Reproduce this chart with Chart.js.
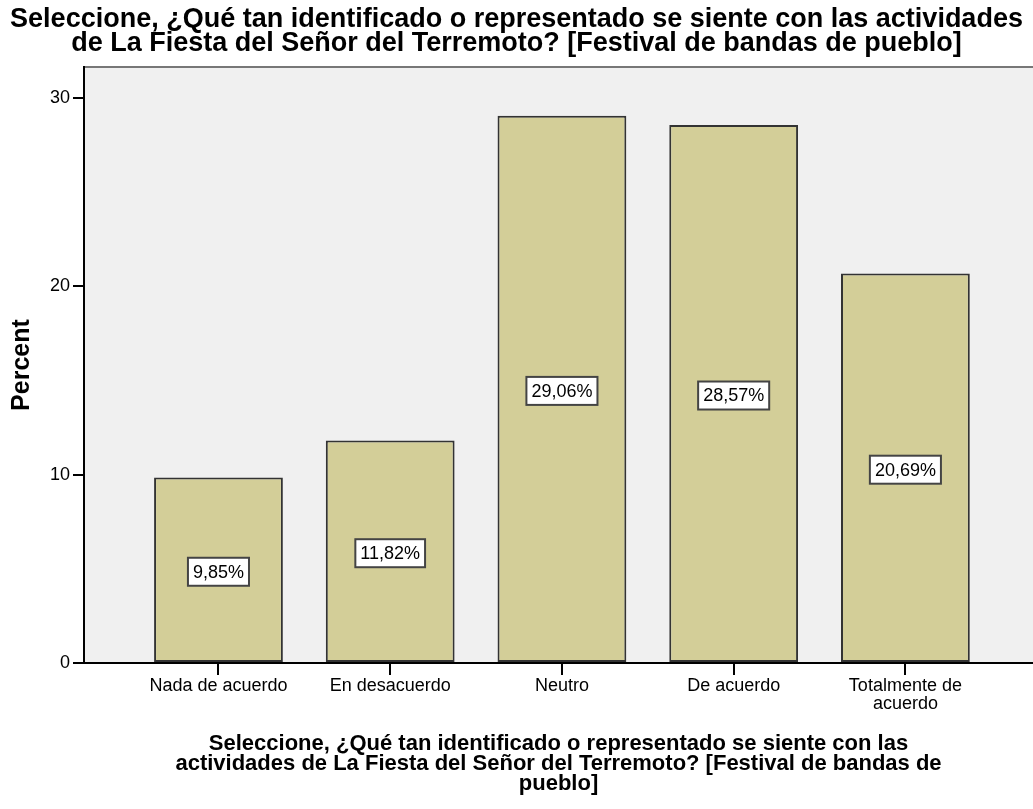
<!DOCTYPE html>
<html lang="es">
<head>
<meta charset="UTF-8">
<title>Festival de bandas de pueblo</title>
<script src="https://cdn.jsdelivr.net/npm/chart.js"></script>
<style>
  html, body { margin: 0; padding: 0; background: #fff; overflow: hidden; }
  canvas { display: block; }
</style>
</head>
<body>
<canvas id="chart" width="1033" height="809"></canvas>
<script>
  // Data
  const categories = ['Nada de acuerdo', 'En desacuerdo', 'Neutro', 'De acuerdo', ['Totalmente de', 'acuerdo']];
  const percents = [9.85, 11.82, 29.06, 28.57, 20.69];
  const yTicks = [0, 10, 20, 30];

  const chartTitle = [
    'Seleccione, ¿Qué tan identificado o representado se siente con las actividades',
    'de La Fiesta del Señor del Terremoto? [Festival de bandas de pueblo]'
  ];
  const xTitle = [
    'Seleccione, ¿Qué tan identificado o representado se siente con las',
    'actividades de La Fiesta del Señor del Terremoto? [Festival de bandas de',
    'pueblo]'
  ];
  const yTitle = 'Percent';

  const FONT = '"Liberation Sans", Arial, sans-serif';

  // grey plot background + top frame line
  const plotBackground = {
    id: 'plotBackground',
    beforeDraw(chart) {
      const {ctx, chartArea: a} = chart;
      ctx.save();
      ctx.fillStyle = '#F0F0F0';
      ctx.fillRect(a.left, a.top, a.right - a.left, a.bottom - a.top);
      ctx.strokeStyle = '#777';
      ctx.lineWidth = 2;
      ctx.beginPath();
      ctx.moveTo(a.left, a.top);
      ctx.lineTo(a.right, a.top);
      ctx.stroke();
      ctx.restore();
    }
  };

  // boxed percent labels in the middle of each bar
  const boxLabels = {
    id: 'boxLabels',
    afterDatasetsDraw(chart) {
      const {ctx} = chart;
      const meta = chart.getDatasetMeta(0);
      ctx.save();
      ctx.font = '18px ' + FONT;
      ctx.textAlign = 'center';
      ctx.textBaseline = 'middle';
      meta.data.forEach((bar, i) => {
        const text = percents[i].toFixed(2).replace('.', ',') + '%';
        const w = ctx.measureText(text).width + 10;
        const h = 28;
        const cx = bar.x;
        const cy = (bar.y + bar.base) / 2 + 2;
        ctx.fillStyle = '#fff';
        ctx.fillRect(cx - w / 2, cy - h / 2, w, h);
        ctx.strokeStyle = '#444';
        ctx.lineWidth = 2;
        ctx.strokeRect(cx - w / 2, cy - h / 2, w, h);
        ctx.fillStyle = '#000';
        ctx.fillText(text, cx, cy + 1);
      });
      ctx.restore();
    }
  };

  const config = {
    type: 'bar',
    data: {
      datasets: [{
        data: percents.map((v, i) => ({x: i, y: v})),
        backgroundColor: '#D3CE98',
        borderColor: '#333',
        borderWidth: 2,
        borderSkipped: false,
        categoryPercentage: 1,
        barPercentage: 0.75
      }]
    },
    options: {
      responsive: false,
      animation: false,
      layout: { padding: 0 },
      plugins: {
        legend: { display: false },
        tooltip: { enabled: false },
        title: {
          display: true,
          text: chartTitle,
          color: '#000',
          font: { family: FONT, size: 27, weight: 'bold', lineHeight: 0.91 },
          padding: { top: 7, bottom: 10.9 }
        }
      },
      scales: {
        x: {
          type: 'linear',
          min: -0.783,
          max: 4.743,
          offset: false,
          afterFit(scale) { scale.height = 146; },
          afterBuildTicks(scale) { scale.ticks = categories.map((c, i) => ({value: i})); },
          ticks: {
            autoSkip: false,
            maxRotation: 0,
            padding: 2.5,
            color: '#000',
            font: { family: FONT, size: 18, lineHeight: 1 },
            callback: (v) => categories[v]
          },
          grid: {
            offset: false,
            drawOnChartArea: false,
            drawTicks: true,
            tickLength: 12,
            color: '#000',
            lineWidth: 2
          },
          border: { color: '#000', width: 2 },
          title: {
            display: true,
            text: xTitle,
            color: '#000',
            font: { family: FONT, size: 22, weight: 'bold', lineHeight: 0.91 },
            padding: { top: 0, bottom: 15 }
          }
        },
        y: {
          min: 0,
          max: 31.65,
          afterFit(scale) { scale.width = 84; },
          afterBuildTicks(scale) { scale.ticks = yTicks.map(v => ({value: v})); },
          ticks: {
            padding: 3,
            color: '#000',
            font: { family: FONT, size: 18 }
          },
          grid: {
            drawOnChartArea: false,
            drawTicks: true,
            tickLength: 11,
            color: '#000',
            lineWidth: 2
          },
          border: { color: '#000', width: 2 },
          title: {
            display: true,
            text: yTitle,
            color: '#000',
            font: { family: FONT, size: 25, weight: 'bold', lineHeight: 1 },
            padding: { top: 9.5, bottom: 0 }
          }
        }
      }
    },
    plugins: [plotBackground, boxLabels]
  };

  const myChart = new Chart(document.getElementById('chart'), config);
</script>
</body>
</html>
